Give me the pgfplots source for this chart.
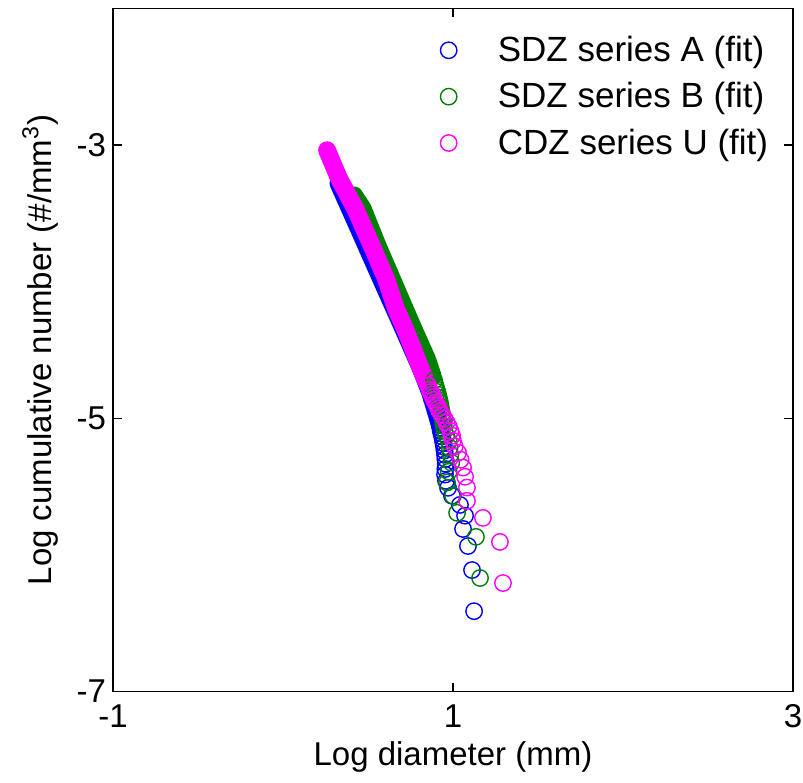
\documentclass[border=0pt]{standalone}
\usepackage{pgfplots}
\pgfplotsset{compat=1.18}
\usepackage{fontspec}
\setmainfont{Liberation Sans}
\definecolor{mblue}{RGB}{0,0,255}
\definecolor{mgreen}{RGB}{0,128,0}
\definecolor{mmag}{RGB}{255,0,255}
\newcommand{\fs}{\fontsize{16.5}{19}\selectfont}
\newcommand{\fl}{\fontsize{17.5}{20}\selectfont}
\begin{document}
\begin{tikzpicture}
\begin{axis}[
  name=ax,
  scale only axis,
  width=340pt, height=341.5pt,
  xmin=-1, xmax=3, ymin=-7, ymax=-2,
  xtick={-1,1,3}, xticklabels={-1,1,3},
  ytick={-7,-5,-3}, yticklabels={-7,-5,-3},
  tick pos=both,
  tick align=inside, major tick length=4.5pt,
  axis line style={line width=0.65pt},
  every tick/.style={black, line width=0.65pt},
  tick label style={font=\fs},
  xticklabel style={yshift=-3pt},
  label style={font=\fs},
  xlabel={Log diameter (mm)},
  ylabel={Log cumulative number (\#/mm\textsuperscript{3})},
  ylabel shift=2.5pt,
  legend style={draw=none, fill=none, font=\fl, at={(0.481,0.966)}, anchor=north west,
    inner sep=0pt, row sep=5pt,
    /tikz/every odd column/.append style={column sep=18.5pt}},
  legend cell align=left,
  clip=false,
]
% ---- SDZ series A (blue)
\addplot[mblue, line width=8.9pt, line cap=round, line join=round, forget plot] coordinates {
(0.326,-3.279) (0.445,-3.610) (0.576,-3.978) (0.708,-4.346) (0.810,-4.634)
(0.835,-4.713) (0.865,-4.810)};
\addplot[mblue, only marks, mark=o, mark size=4.1pt, mark options={line width=0.7pt}] coordinates {
(0.870,-4.832) (0.875,-4.856) (0.882,-4.881) (0.888,-4.907) (0.895,-4.935)
(0.899,-4.950) (0.903,-4.965) (0.907,-4.981) (0.910,-4.997) (0.914,-5.014)
(0.918,-5.032) (0.922,-5.050) (0.925,-5.070) (0.928,-5.090) (0.932,-5.111)
(0.936,-5.133) (0.940,-5.157) (0.944,-5.182) (0.947,-5.208) (0.950,-5.236)
(0.953,-5.266) (0.955,-5.298) (0.957,-5.333) (0.955,-5.371) (0.953,-5.412)
(0.959,-5.458) (0.971,-5.509) (0.994,-5.567) (1.041,-5.634) (1.071,-5.713)
(1.059,-5.810) (1.088,-5.935) (1.112,-6.111) (1.124,-6.412)};
\addlegendentry{SDZ series A (fit)}
% ---- SDZ series B (green)
\addplot[mgreen, line width=8.9pt, line cap=round, line join=round, forget plot] coordinates {
(0.418,-3.368) (0.468,-3.463) (0.556,-3.735) (0.691,-4.125) (0.768,-4.346) (0.829,-4.516)
(0.847,-4.567) (0.881,-4.692)};
\addplot[mgreen, only marks, mark=o, mark size=4.1pt, mark options={line width=0.7pt}] coordinates {
(0.889,-4.722) (0.895,-4.754) (0.899,-4.771) (0.903,-4.789) (0.908,-4.807)
(0.912,-4.827) (0.916,-4.847) (0.920,-4.868) (0.924,-4.890) (0.927,-4.914)
(0.931,-4.939) (0.935,-4.965) (0.938,-4.993) (0.942,-5.023) (0.946,-5.055)
(0.950,-5.090) (0.960,-5.128) (0.975,-5.169) (0.980,-5.215) (0.985,-5.266)
(0.990,-5.324) (0.975,-5.391) (0.965,-5.470) (1.000,-5.567) (1.024,-5.692)
(1.135,-5.868) (1.159,-6.169)};
\addlegendentry{SDZ series B (fit)}
% ---- CDZ series U (magenta)
\addplot[mmag, line width=8.9pt, line cap=round, line join=round, forget plot] coordinates {
(0.259,-3.037) (0.329,-3.243) (0.424,-3.463) (0.529,-3.757) (0.606,-3.978)
(0.665,-4.199) (0.718,-4.346) (0.765,-4.493) (0.784,-4.553) (0.800,-4.604)
(0.841,-4.729)};
\addplot[mmag, only marks, mark=o, mark size=4.1pt, mark options={line width=0.7pt}] coordinates {
(0.853,-4.759) (0.863,-4.791) (0.868,-4.808) (0.876,-4.826) (0.882,-4.844)
(0.888,-4.864) (0.897,-4.884) (0.906,-4.905) (0.915,-4.927) (0.924,-4.951)
(0.937,-4.976) (0.950,-5.002) (0.962,-5.030) (0.975,-5.060) (0.985,-5.092)
(0.995,-5.127) (1.000,-5.165) (1.010,-5.206) (1.030,-5.252) (1.045,-5.303)
(1.059,-5.361) (1.071,-5.428) (1.082,-5.507) (1.082,-5.604) (1.176,-5.729)
(1.276,-5.905) (1.294,-6.206)};
\addlegendentry{CDZ series U (fit)}
\end{axis}
\pgfresetboundingbox
\path[use as bounding box] ([xshift=-56.5pt,yshift=-45.5pt]ax.south west) rectangle ([xshift=5pt,yshift=4.25pt]ax.north east);
\end{tikzpicture}
\end{document}
